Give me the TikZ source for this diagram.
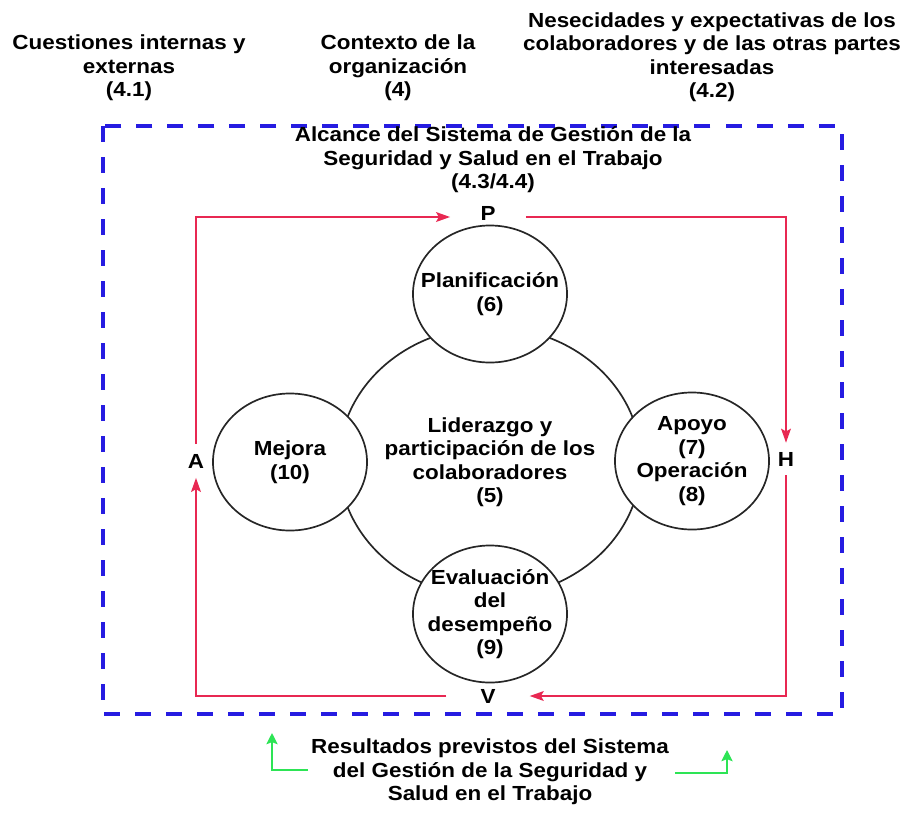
\documentclass[tikz,border=0pt]{standalone}
\usepackage{fontspec}
\setmainfont{Liberation Sans}[FakeStretch=1.1]
\usetikzlibrary{arrows.meta,shapes.geometric,positioning}
\definecolor{cicloRojo}{RGB}{232,40,82}
\definecolor{alcanceAzul}{RGB}{38,28,225}
\definecolor{salidaVerde}{RGB}{45,228,85}
\begin{document}
\begin{tikzpicture}[x=0.025cm, y=-0.025cm,
    txt/.style={align=center, inner sep=0pt, font=\bfseries\fontsize{14.5}{16.7}\selectfont},
    etapa/.style={ellipse, draw=black!85, line width=1.2pt, fill=white, txt, inner sep=-12pt,
        minimum width=3.85cm, minimum height=3.425cm},
    letra/.style={txt},
    ciclo/.style={cicloRojo, line width=1.1pt, -{Stealth[length=10pt, width=7pt, inset=2pt]}},
    salida/.style={salidaVerde, line width=1pt, -{Stealth[length=8pt, width=8pt, inset=1.5pt]}},
    alcance/.style={alcanceAzul, line width=3.2pt, dash pattern=on 0.4cm off 0.375cm}]
    \useasboundingbox (0,0) rectangle (909,812);
    \node[txt] (cuestiones) at (129,68) {Cuestiones internas y\\externas\\(4.1)};
    \node[txt] (contexto) at (398,68) {Contexto de la\\organización\\(4)};
    \node[txt] (necesidades) at (712,57) {Nesecidades y expectativas de los\\colaboradores y de las otras partes\\interesadas\\(4.2)};
    \draw[alcance] (103,126) rectangle (842,714);
    \node[txt] (alcanceTxt) at (493,160) {Alcance del Sistema de Gestión de la\\Seguridad y Salud en el Trabajo\\(4.3/4.4)};
    \node[ellipse, draw=black!85, line width=1.2pt, txt, minimum width=7.55cm, minimum height=6.75cm] (liderazgo) at (490,462)
        {Liderazgo y\\participación de los\\colaboradores\\(5)};
    \node[etapa] (planificacion) at (490,294) {Planificación\\(6)};
    \node[etapa] (mejora) at (290,462) {Mejora\\(10)};
    \node[etapa] (apoyo) at (692,461) {Apoyo\\(7)\\Operación\\(8)};
    \node[etapa] (evaluacion) at (490,614) {Evaluación\\del\\desempeño\\(9)};
    \node[letra, minimum width=1.88cm, minimum height=0.5cm] (P) at (488,217) {\raisebox{5pt}{P}};
    \node[letra, minimum width=0.5cm, minimum height=0.8cm] (H) at (786,459) {H};
    \node[letra, minimum width=2.07cm, minimum height=0.5cm] (V) at (488,696) {V};
    \node[letra, minimum width=0.5cm, minimum height=0.83cm] (A) at (196,461) {A};
    \draw[ciclo] (A.north) |- (P.west);
    \draw[ciclo] (P.east) -| (H.north);
    \draw[ciclo] (H.south) |- (V.east);
    \draw[ciclo] (V.west) -| (A.south);
    \node[txt] (resultados) at (490,772) {Resultados previstos del Sistema\\del Gestión de la Seguridad y\\Salud en el Trabajo};
    \coordinate (verdeIzq) at (308,770);
    \coordinate (puntaIzq) at (272,733);
    \coordinate (verdeDer) at (675,773);
    \coordinate (puntaDer) at (727,750);
    \draw[salida] (verdeIzq) -| (puntaIzq);
    \draw[salida] (verdeDer) -| (puntaDer);
\end{tikzpicture}
\end{document}
